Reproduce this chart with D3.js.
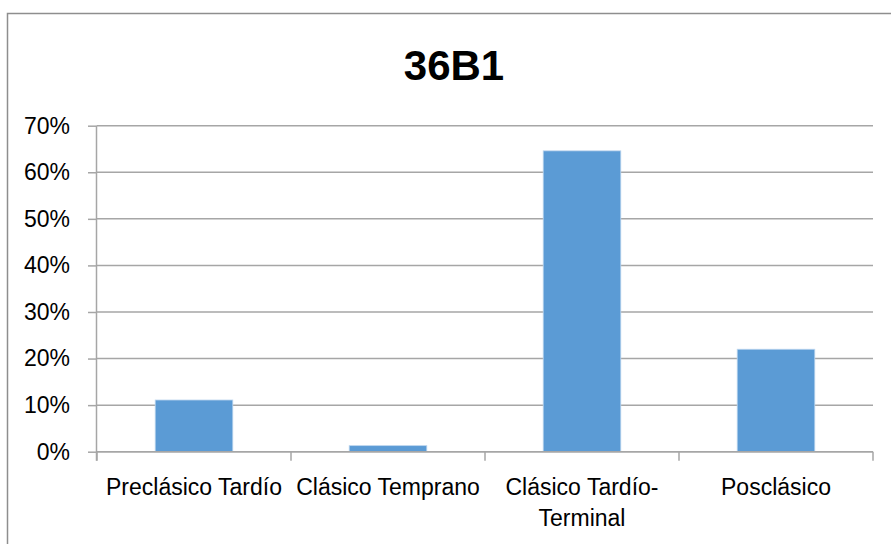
<!DOCTYPE html>
<html>
<head>
<meta charset="utf-8">
<script src="https://cdn.jsdelivr.net/npm/d3@7"></script>
<style>
  html, body { margin: 0; padding: 0; background: #fff; }
  svg { display: block; }
</style>
</head>
<body>
<svg id="chart" width="891" height="544"></svg>
<script>
const title = "36B1";
const categories = ["Preclásico Tardío", "Clásico Temprano", "Clásico Tardío-Terminal", "Posclásico"];
const values = [0.111, 0.013, 0.646, 0.220];
const yTicks = [0, 0.1, 0.2, 0.3, 0.4, 0.5, 0.6, 0.7];

const W = 891, H = 544;
const margin = { left: 97, right: 18, top: 125.7, bottom: 92.3 };
const font = "'Liberation Sans', Arial, sans-serif";

const svg = d3.select("#chart");

// chart border
svg.append("rect")
  .attr("x", 7.5).attr("y", 13.5)
  .attr("width", 920).attr("height", 600)
  .attr("fill", "#fff")
  .attr("stroke", "#8e8e8e").attr("stroke-width", 1.5);

const x = d3.scaleBand()
  .domain(categories)
  .range([margin.left, W - margin.right])
  .paddingInner(0.6)
  .paddingOuter(0.3);

const y = d3.scaleLinear()
  .domain([0, 0.7])
  .range([H - margin.bottom, margin.top]);

// title
svg.append("text")
  .attr("x", 454).attr("y", 79.5)
  .attr("text-anchor", "middle")
  .attr("font-family", font)
  .attr("font-weight", "bold")
  .attr("font-size", 42)
  .attr("fill", "#000")
  .text(title);

// y axis
const yAxis = d3.axisLeft(y)
  .tickValues(yTicks)
  .tickFormat(d3.format(".0%"))
  .tickSize(9)
  .tickPadding(18);

const gy = svg.append("g")
  .attr("transform", `translate(${margin.left},0)`)
  .call(yAxis);
gy.select(".domain").attr("stroke", "#a6a6a6").attr("stroke-width", 1.5)
  .attr("d", `M-0.5,${y(0) + 9}V${y(0.7)}`);
gy.selectAll(".tick line").attr("stroke", "#a6a6a6").attr("stroke-width", 1.5);
gy.selectAll(".tick text")
  .attr("font-family", font).attr("font-size", 23).attr("fill", "#000");

// gridlines
svg.append("g")
  .selectAll("line")
  .data(yTicks)
  .join("line")
  .attr("x1", margin.left).attr("x2", W - margin.right)
  .attr("y1", d => y(d)).attr("y2", d => y(d))
  .attr("stroke", "#a6a6a6").attr("stroke-width", 1.5);

// bars
svg.append("g")
  .selectAll("rect")
  .data(categories)
  .join("rect")
  .attr("x", d => x(d))
  .attr("width", x.bandwidth())
  .attr("y", (d, i) => y(values[i]))
  .attr("height", (d, i) => y(0) - y(values[i]))
  .attr("fill", "#5b9bd5")
  .attr("stroke", "#bcd5ee")
  .attr("stroke-width", 0.8);

// x axis
const step = x.step();
const boundaries = d3.range(categories.length + 1).map(i => margin.left + i * step);
svg.append("g")
  .selectAll("line")
  .data(boundaries)
  .join("line")
  .attr("x1", d => d).attr("x2", d => d)
  .attr("y1", y(0)).attr("y2", y(0) + 9)
  .attr("stroke", "#a6a6a6").attr("stroke-width", 1.5);

svg.append("line")
  .attr("x1", margin.left).attr("x2", W - margin.right)
  .attr("y1", y(0)).attr("y2", y(0))
  .attr("stroke", "#a6a6a6").attr("stroke-width", 1.5);

// category labels with wrapping
const labelG = svg.append("g");
categories.forEach(c => {
  const t = labelG.append("text")
    .attr("x", x(c) + x.bandwidth() / 2)
    .attr("y", 495)
    .attr("text-anchor", "middle")
    .attr("font-family", font)
    .attr("font-size", 23)
    .attr("fill", "#000");
  t.text(c);
  if (t.node().getComputedTextLength() > step) {
    const idx = c.indexOf("-");
    const parts = idx >= 0 ? [c.slice(0, idx + 1), c.slice(idx + 1)] : c.split(" ");
    t.text(null);
    parts.forEach((p, i) => {
      t.append("tspan")
        .attr("x", x(c) + x.bandwidth() / 2)
        .attr("dy", i === 0 ? 0 : 31)
        .text(p);
    });
  }
});
</script>
</body>
</html>
